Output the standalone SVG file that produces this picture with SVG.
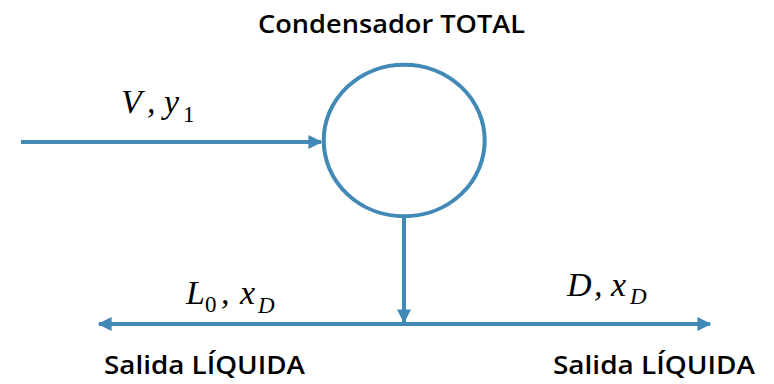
<svg xmlns="http://www.w3.org/2000/svg" width="774" height="384" viewBox="0 0 774 384">
<style>
.ln{stroke:#4189B6;stroke-width:4;fill:none}
.lbl{font-family:"Open Sans","Liberation Sans",sans-serif;font-weight:600;font-size:25px;fill:#000}
.math{font-family:"Liberation Serif",serif;font-style:italic;font-size:34px;fill:#000}
.sub{font-size:23px}
.up{font-style:normal}
</style>
<defs>
<marker id="ah" viewBox="0 0 10 10" refX="9" refY="5" markerWidth="3.5" markerHeight="3.5" orient="auto-start-reverse" markerUnits="strokeWidth">
<path d="M0,0 L10,5 L0,10 Z" fill="#4189B6"/>
</marker>
</defs>
<rect width="774" height="384" fill="#fff"/>
<g id="condensador">
<ellipse class="ln" cx="404.2" cy="140.5" rx="80.5" ry="75.8"/>
<text class="lbl" x="258" y="33" textLength="267" lengthAdjust="spacingAndGlyphs">Condensador TOTAL</text>
</g>
<g id="connectors">
<line class="ln" x1="21" y1="142" x2="321" y2="142" marker-end="url(#ah)"/>
<line class="ln" x1="404" y1="216" x2="404" y2="322" marker-end="url(#ah)"/>
<line class="ln" x1="99" y1="324" x2="404" y2="324" marker-start="url(#ah)"/>
<line class="ln" x1="404" y1="324" x2="710" y2="324" marker-end="url(#ah)"/>
</g>
<g id="label-V">
<text class="math"><tspan x="121" y="113">V</tspan><tspan x="147" y="113">,</tspan><tspan x="164" y="113">y</tspan><tspan class="sub up" x="183" y="122">1</tspan></text>
</g>
<g id="label-L0">
<text class="math"><tspan x="186" y="304">L</tspan><tspan class="sub up" x="205" y="312">0</tspan><tspan x="221" y="304">,</tspan><tspan x="240" y="304">x</tspan><tspan class="sub" x="258" y="313">D</tspan></text>
</g>
<g id="label-D">
<text class="math"><tspan x="567" y="296">D</tspan><tspan x="594" y="296">,</tspan><tspan x="611" y="296">x</tspan><tspan class="sub" x="630" y="304">D</tspan></text>
</g>
<g id="salida-izq">
<text class="lbl" x="104" y="374" textLength="201" lengthAdjust="spacingAndGlyphs">Salida LÍQUIDA</text>
</g>
<g id="salida-der">
<text class="lbl" x="553" y="374" textLength="202" lengthAdjust="spacingAndGlyphs">Salida LÍQUIDA</text>
</g>
</svg>
